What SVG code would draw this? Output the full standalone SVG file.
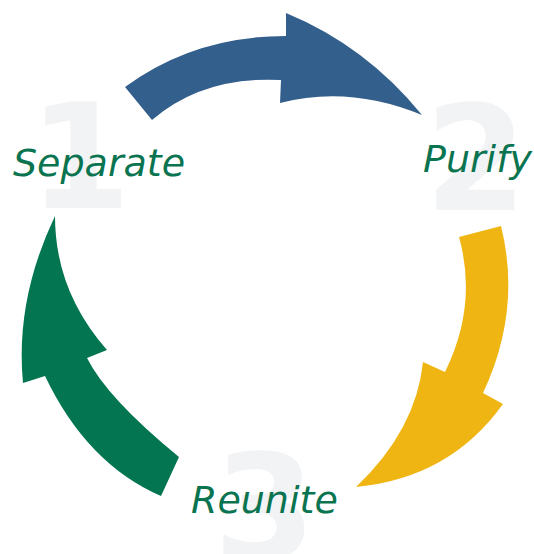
<svg xmlns="http://www.w3.org/2000/svg" width="534" height="554" viewBox="0 0 534 554">
<style>
.num{font-family:"DejaVu Sans","Liberation Sans",sans-serif;font-weight:bold;font-size:147px;fill:#F2F3F5;text-anchor:middle}
.lbl{font-family:"DejaVu Sans","Liberation Sans",sans-serif;font-style:italic;font-size:38px;fill:#0A7450}
</style>
<rect width="534" height="554" fill="#FFFFFF"/>
<g id="numbers">
<text class="num" x="80" y="208">1</text>
<text class="num" x="476" y="210">2</text>
<text class="num" x="265" y="559">3</text>
</g>
<g id="connectors">
<path id="arrow-blue" fill="#335F8C" d="M125,87 Q194,36 286,36 L286,13 Q366,46 422,115 Q349,85 280,103 L281,80 Q203,76 152,120 Z"/>
<path id="arrow-yellow" fill="#EFB513" d="M501,226 L459,237 Q478,305 445,372 L423,362 Q416,430 356,487 Q450,478 503,404 L483,393 Q522,310 501,226 Z"/>
<path id="arrow-green" fill="#037550" d="M179,457 L161,496 Q87,464 45,376 L23,383 Q15,300 55,216 Q55,291 107,350 L87,358 Q107,398 179,457 Z"/>
</g>
<g id="node-separate"><text class="lbl" x="13" y="176">Separate</text></g>
<g id="node-purify"><text class="lbl" x="423" y="172">Purify</text></g>
<g id="node-reunite"><text class="lbl" x="191" y="513">Reunite</text></g>
</svg>
